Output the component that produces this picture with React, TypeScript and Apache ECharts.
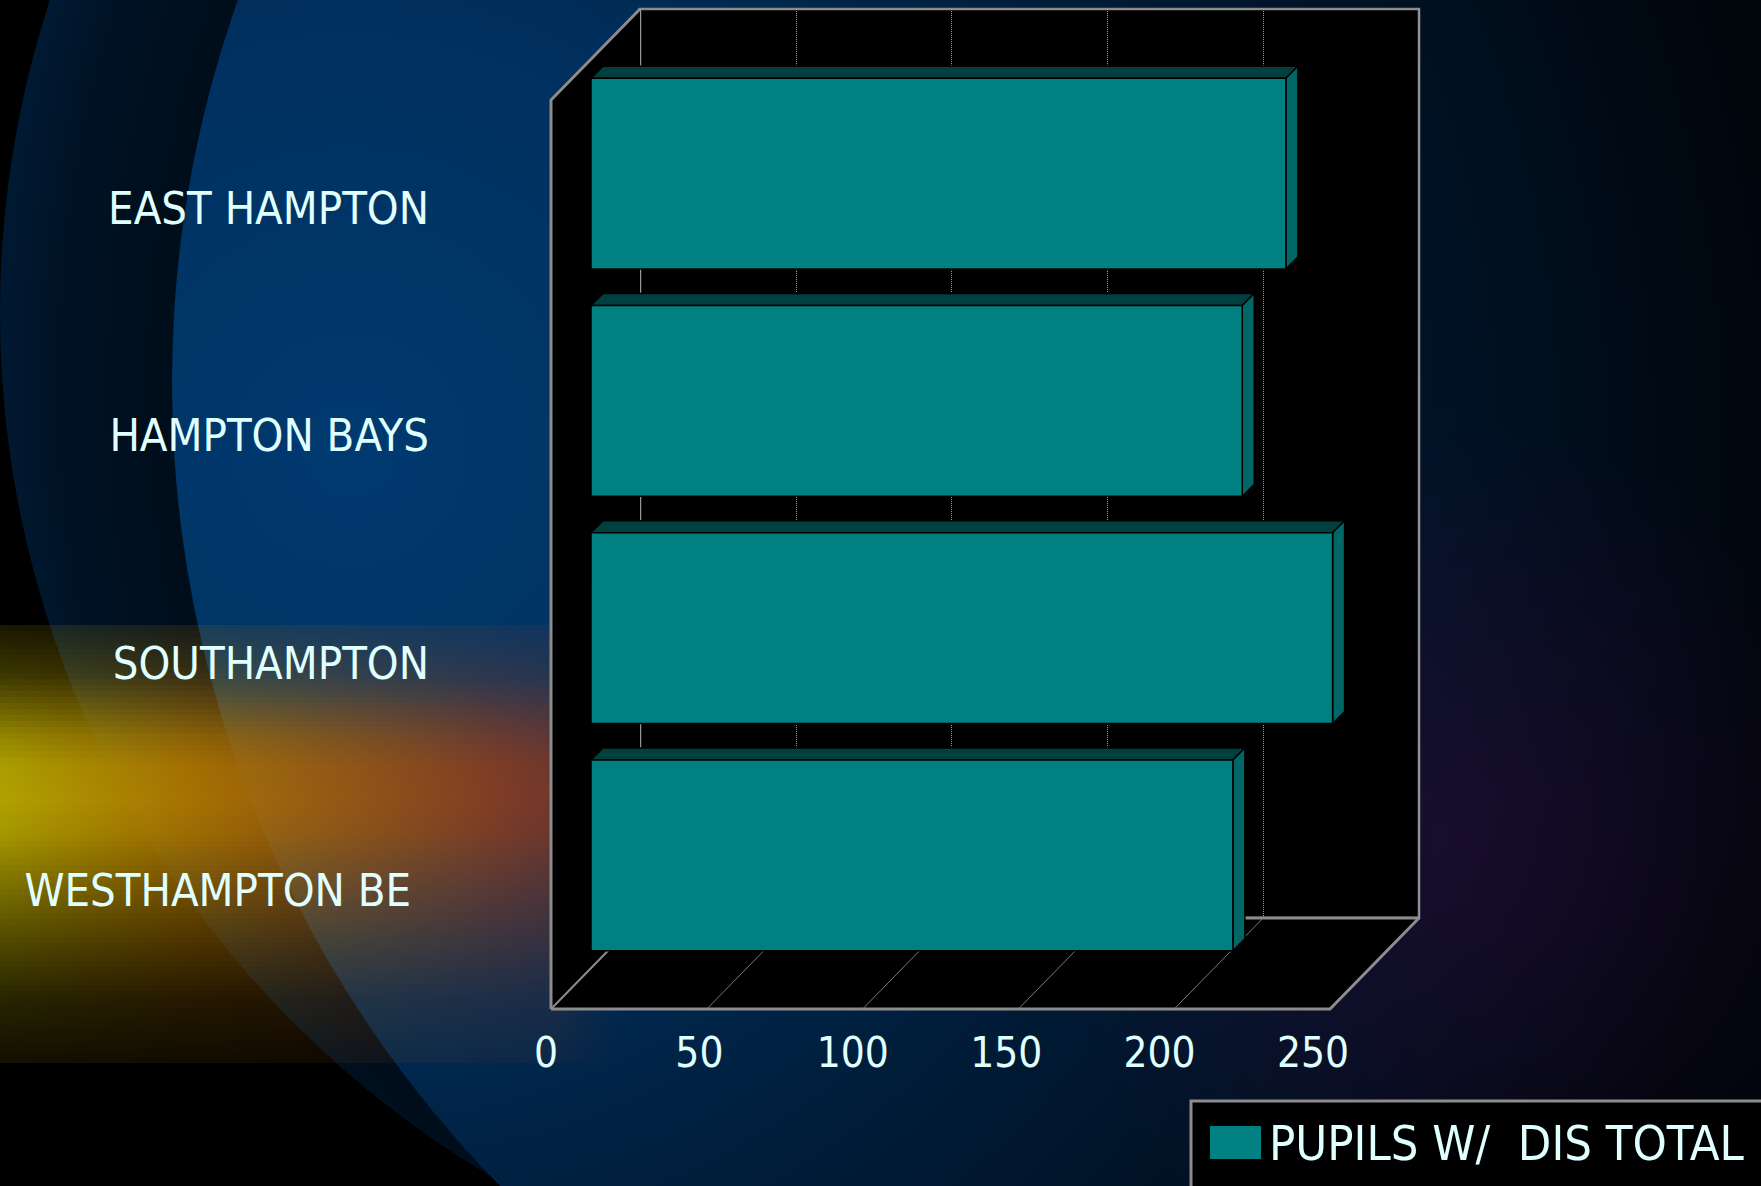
import React, { useEffect, useRef } from 'react';
import * as echarts from 'echarts';

// ---------------- data ----------------
const categories = ['EAST HAMPTON', 'HAMPTON BAYS', 'SOUTHAMPTON', 'WESTHAMPTON BE'];
const values = [223, 209, 238, 206];
const seriesName = 'PUPILS W/  DIS TOTAL';
const axisMin = 0;
const axisMax = 250;
const axisStep = 50;
const floorTicks = [50, 100, 150, 200];

// ---------------- layout / style ----------------
const PAGE_W = 1761;
const PAGE_H = 1186;
const FRONT = { left: 551, top: 100, width: 779, height: 909 };
const DX = 89;
const DY = -91;
const BACK = { left: FRONT.left + DX, top: FRONT.top + DY, width: 779, height: 909 };
const BARS = { left: 591, top: 60, width: 779, height: 909 };
const TICKS = { left: 546, top: 100, width: 767, height: 909 };
const BAR_DEPTH = 12;
const BAR_FILL = 0.84;
const LABEL_EXTRA_RIGHT = [0, 0, 0, 18];

const TEXT = '#e0ffff';
const EDGE = '#8c8c8c';
const FONT = "'DejaVu Sans Condensed', 'Liberation Sans Narrow', 'DejaVu Sans', sans-serif";
const CAT_FONT = 45;
const TICK_FONT = 42;
const LEGEND_FONT = 48.5;

const BAND = { x: 0, y: 625, w: 620, h: 438, strip: 6 };
const bandProfile: [number, number][] = [
  [625, 0.14], [675, 0.34], [705, 0.58], [735, 0.82], [765, 0.97], [800, 1], [835, 0.93], [876, 0.74],
  [955, 0.4], [1000, 0.22], [1063, 0.1],
];
const bandStops: [number, number[]][] = [
  [0, [176, 162, 0, 1]],
  [0.3, [176, 120, 0, 0.95]],
  [0.55, [165, 92, 12, 0.9]],
  [0.8, [142, 62, 30, 0.9]],
  [0.9, [132, 56, 34, 0.85]],
  [1, [120, 50, 40, 0]],
];

function profileAt(y: number): number {
  for (let i = 0; i < bandProfile.length - 1; i++) {
    const [y0, a0] = bandProfile[i];
    const [y1, a1] = bandProfile[i + 1];
    if (y >= y0 && y <= y1) return a0 + ((a1 - a0) * (y - y0)) / (y1 - y0);
  }
  return 0;
}

function backgroundElements(): any[] {
  const els: any[] = [
    { type: 'rect', z: -20, silent: true, shape: { x: 0, y: 0, width: PAGE_W, height: PAGE_H }, style: { fill: '#000' } },
    {
      type: 'circle', z: -19, silent: true,
      shape: { cx: 1005, cy: 313, r: 1005 },
      style: {
        fill: {
          type: 'radial', x: 1319, y: 383, r: 1330, global: true,
          colorStops: [
            { offset: 0, color: '#000c18' },
            { offset: 0.86, color: '#000d1a' },
            { offset: 0.95, color: '#001326' },
            { offset: 1, color: '#001a34' },
          ],
        },
      },
    },
    {
      type: 'circle', z: -18, silent: true,
      shape: { cx: 1319, cy: 383, r: 1147 },
      style: {
        fill: {
          type: 'radial', x: 350, y: 450, r: 1450, global: true,
          colorStops: [
            { offset: 0, color: '#003a70' },
            { offset: 0.3, color: '#00305e' },
            { offset: 0.6, color: '#001b36' },
            { offset: 1, color: '#00050b' },
          ],
        },
      },
    },
    {
      type: 'circle', z: -17, silent: true,
      shape: { cx: 1450, cy: 840, r: 430 },
      style: {
        fill: {
          type: 'radial', x: 0.5, y: 0.5, r: 0.5,
          colorStops: [
            { offset: 0, color: 'rgba(48,10,58,0.5)' },
            { offset: 1, color: 'rgba(48,10,58,0)' },
          ],
        },
      },
    },
  ];
  const n = Math.round(BAND.h / BAND.strip);
  for (let i = 0; i < n; i++) {
    const y0 = BAND.y + i * BAND.strip;
    const a = profileAt(y0 + BAND.strip / 2);
    els.push({
      type: 'rect', z: -16, silent: true,
      shape: { x: BAND.x, y: y0, width: BAND.w, height: BAND.strip },
      style: {
        fill: {
          type: 'linear', x: BAND.x, y: 0, x2: BAND.x + BAND.w, y2: 0, global: true,
          colorStops: bandStops.map(([o, c]) => ({
            offset: o,
            color: `rgba(${c[0]},${c[1]},${c[2]},${(c[3] * a).toFixed(3)})`,
          })),
        },
      },
    });
  }
  return els;
}

function frameElements(): any[] {
  const fl = FRONT.left;
  const ft = FRONT.top;
  const fr = FRONT.left + FRONT.width;
  const fb = FRONT.top + FRONT.height;
  const bl = BACK.left;
  const bt = BACK.top;
  const br = BACK.left + BACK.width;
  const bb = BACK.top + BACK.height;
  return [
    { type: 'rect', z: -12, silent: true, shape: { x: bl, y: bt, width: BACK.width, height: BACK.height }, style: { fill: '#000', stroke: EDGE, lineWidth: 2.5 } },
    { type: 'polygon', z: -12, silent: true, shape: { points: [[fl, ft], [bl, bt], [bl, bb], [fl, fb]] }, style: { fill: '#000' } },
    { type: 'polygon', z: -12, silent: true, shape: { points: [[fl, fb], [bl, bb], [br, bb], [fr, fb]] }, style: { fill: '#000' } },
    { type: 'polyline', z: -11, silent: true, shape: { points: [[fl, fb], [fl, ft], [bl, bt]] }, style: { stroke: EDGE, lineWidth: 3, fill: null } },
    { type: 'polyline', z: -11, silent: true, shape: { points: [[fl, fb], [fr, fb], [br, bb]] }, style: { stroke: EDGE, lineWidth: 3, fill: null } },
    { type: 'line', z: -11, silent: true, shape: { x1: fl, y1: fb, x2: bl, y2: bb }, style: { stroke: EDGE, lineWidth: 2 } },
    { type: 'line', z: -11, silent: true, shape: { x1: bl, y1: bb, x2: br, y2: bb }, style: { stroke: EDGE, lineWidth: 3 } },
    { type: 'rect', z: -11, silent: true, shape: { x: 1191, y: 1101, width: 700, height: 200 }, style: { fill: '#000', stroke: EDGE, lineWidth: 3 } },
  ];
}

function buildOption(): any {
  const gridBase = { containLabel: false, outerBoundsMode: 'none' };
  const valueAxis = { type: 'value', min: axisMin, max: axisMax, interval: axisStep };
  return {
    animation: false,
    backgroundColor: 'transparent',
    textStyle: { fontFamily: FONT },
    graphic: { elements: [...backgroundElements(), ...frameElements()] },
    grid: [
      { ...gridBase, ...BACK },
      { ...gridBase, ...FRONT },
      { ...gridBase, ...BARS },
      { ...gridBase, ...TICKS },
    ],
    xAxis: [
      {
        ...valueAxis, gridIndex: 0,
        axisLine: { show: false }, axisTick: { show: false }, axisLabel: { show: false },
        splitLine: { show: true, lineStyle: { color: '#a0a0a0', type: 'dotted', width: 1 } },
      },
      { ...valueAxis, gridIndex: 1, show: false },
      { ...valueAxis, gridIndex: 2, show: false },
      {
        ...valueAxis, gridIndex: 3,
        axisLine: { show: false }, axisTick: { show: false }, splitLine: { show: false },
        axisLabel: { color: TEXT, fontSize: TICK_FONT, fontFamily: FONT, margin: 43, verticalAlign: 'middle' },
      },
    ],
    yAxis: [
      { type: 'value', min: 0, max: 1, gridIndex: 0, show: false },
      {
        type: 'category', gridIndex: 1, data: categories, inverse: true,
        axisLine: { show: false }, axisTick: { show: false }, splitLine: { show: false },
        axisLabel: {
          color: TEXT, fontSize: CAT_FONT, fontFamily: FONT, margin: FRONT.left - 429,
          padding: [0, 0, 10, 0],
          formatter: (v: string, i: number) => `{p${LABEL_EXTRA_RIGHT[i] ? 'x' : 'n'}|${v}}`,
          rich: {
            pn: { color: TEXT, fontSize: CAT_FONT, fontFamily: FONT },
            px: { color: TEXT, fontSize: CAT_FONT, fontFamily: FONT, padding: [0, LABEL_EXTRA_RIGHT[3], 0, 0] },
          },
        },
      },
      { type: 'category', gridIndex: 2, data: categories, inverse: true, show: false },
      { type: 'value', min: 0, max: 1, gridIndex: 3, show: false },
    ],
    legend: {
      left: 1205, top: 1113,
      itemWidth: 51, itemHeight: 33, icon: 'rect', selectedMode: false,
      data: [{ name: seriesName, icon: 'rect', itemStyle: { color: '#008080' } }],
      textStyle: { color: TEXT, fontSize: LEGEND_FONT, fontFamily: FONT, padding: [0, 0, 10, 3] },
    },
    series: [
      {
        type: 'custom', name: 'floor-grid', xAxisIndex: 1, yAxisIndex: 1, silent: true, z: 1,
        encode: { x: 0, y: 1 },
        data: floorTicks.map((v) => [v, 0]),
        renderItem: (params: any, api: any) => {
          const cs = params.coordSys;
          const p = api.coord([api.value(0), 0]);
          const y0 = cs.y + cs.height;
          return {
            type: 'line',
            shape: { x1: p[0], y1: y0, x2: p[0] + DX, y2: y0 + DY },
            style: { stroke: '#7a7a7a', lineWidth: 1 },
          };
        },
      },
      {
        type: 'custom', name: seriesName, xAxisIndex: 2, yAxisIndex: 2, z: 3,
        encode: { x: 0, y: 1 },
        itemStyle: { color: '#008080' },
        data: values.map((v, i) => [v, i]),
        renderItem: (params: any, api: any) => {
          const cat = api.value(1);
          const v = api.value(0);
          const p0 = api.coord([axisMin, cat]);
          const p1 = api.coord([v, cat]);
          const h = api.size([0, 1])[1] * BAR_FILL;
          const x0 = p0[0];
          const x1 = p1[0];
          const yT = p0[1] - h / 2;
          const yB = p0[1] + h / 2;
          const d = BAR_DEPTH;
          return {
            type: 'group',
            children: [
              { type: 'polygon', shape: { points: [[x0, yT], [x0 + d, yT - d], [x1 + d, yT - d], [x1, yT]] }, style: { fill: '#004040', stroke: '#000', lineWidth: 1.5 } },
              { type: 'polygon', shape: { points: [[x1, yT], [x1 + d, yT - d], [x1 + d, yB - d], [x1, yB]] }, style: { fill: '#006666', stroke: '#000', lineWidth: 1.5 } },
              { type: 'rect', shape: { x: x0, y: yT, width: x1 - x0, height: h }, style: { fill: '#008080', stroke: '#000', lineWidth: 1.5 } },
            ],
          };
        },
      },
    ],
  };
}

export default function App() {
  const ref = useRef<HTMLDivElement>(null);
  useEffect(() => {
    document.body.style.margin = '0';
    document.body.style.overflow = 'hidden';
    const chart = echarts.init(ref.current as HTMLDivElement, null, { renderer: 'svg' });
    chart.setOption(buildOption());
    return () => chart.dispose();
  }, []);
  return <div ref={ref} style={{ width: PAGE_W, height: PAGE_H }} />;
}
